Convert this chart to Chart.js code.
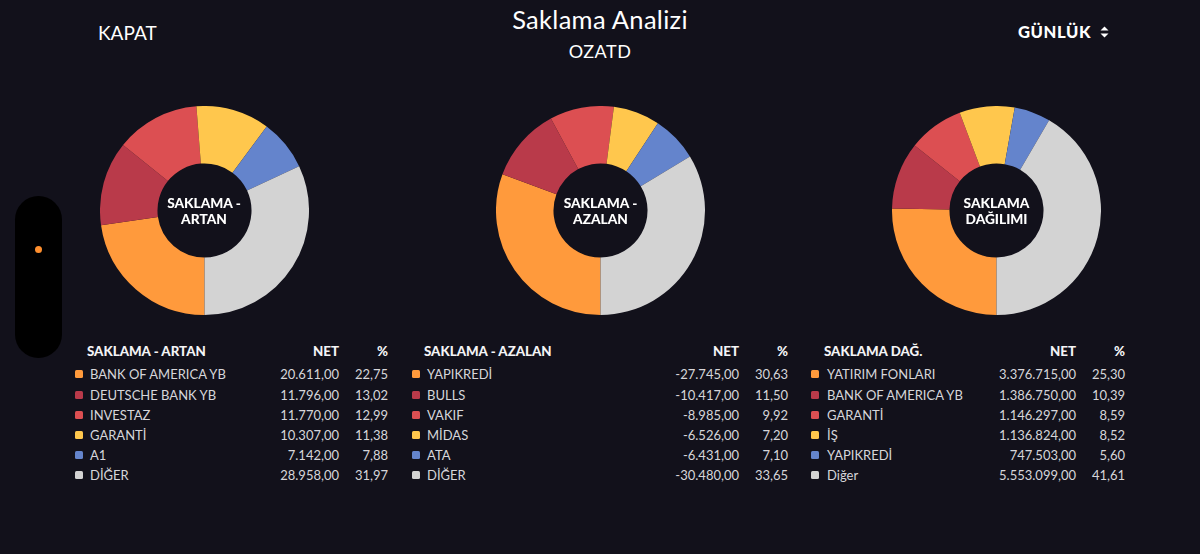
<!DOCTYPE html>
<html lang="tr">
<head>
<meta charset="utf-8">
<title>Saklama Analizi</title>
<script src="https://cdn.jsdelivr.net/npm/chart.js@4"></script>
<style>
  html, body { margin: 0; padding: 0; background: #12111b; }
  body { width: 1200px; height: 554px; position: relative; overflow: hidden; color: #f2f2f4; font-family: Lato, sans-serif; }
  .abs { position: absolute; white-space: nowrap; }
  .title { left: 0; width: 1200px; top: 3px; text-align: center; font-size: 25.5px; line-height: 32px; letter-spacing: 0.3px; color: #fff; }
  .code { left: 0; width: 1200px; top: 40px; text-align: center; font-size: 18px; line-height: 22px; letter-spacing: 0.5px; color: #fff; }
  .close { left: 98px; top: 22px; font-size: 19px; line-height: 22px; color: #fff; }
  .period { left: 1018px; top: 22px; font-size: 16.6px; line-height: 20px; font-weight: 900; letter-spacing: 0.6px; color: #fff; }
  .arrows { left: 1100px; top: 26px; width: 9px; height: 12px; }
  .pill { left: 15px; top: 196px; width: 47px; height: 162px; border-radius: 24px; background: #000; }
  .dot { left: 35px; top: 246px; width: 7px; height: 7px; border-radius: 50%; background: #ff8f2e; }
  .donut { top: 106px; width: 209px; height: 209px; }
  .center { top: 195px; width: 120px; text-align: center; font-size: 13.7px; line-height: 16px; font-weight: 900; color: #fff; white-space: normal; }
  .head { font-size: 13.3px; line-height: 16px; font-weight: 900; color: #f4f4f6; }
  .cell { font-size: 13px; line-height: 16px; color: #d6d6da; }
  .num { text-align: right; }
  .swatch { width: 8px; height: 8px; border-radius: 1.5px; }
</style>
</head>
<body>
<div class="abs title">Saklama Analizi</div>
<div class="abs code">OZATD</div>
<div class="abs close">KAPAT</div>
<div class="abs period">GÜNLÜK</div>
<svg class="abs arrows" viewBox="0 0 9 12"><path d="M4.5 0.5 L8.5 4.5 L0.5 4.5 Z M4.5 11.5 L8.5 7.5 L0.5 7.5 Z" fill="#fff"/></svg>
<div class="abs pill"></div>
<div class="abs dot"></div>

<script>
const sliceColors = ["#ff9a3c", "#b93a4a", "#dc4f52", "#ffc74d", "#6484cc", "#d3d3d3"];

const artanTitle = "SAKLAMA - ARTAN";
const artanCenter = ["SAKLAMA -", "ARTAN"];
const artanNames = ["BANK OF AMERICA YB", "DEUTSCHE BANK YB", "INVESTAZ", "GARANTİ", "A1", "DİĞER"];
const artanNet = [20611, 11796, 11770, 10307, 7142, 28958];
const artanPct = [22.75, 13.02, 12.99, 11.38, 7.88, 31.97];

const azalanTitle = "SAKLAMA - AZALAN";
const azalanCenter = ["SAKLAMA -", "AZALAN"];
const azalanNames = ["YAPIKREDİ", "BULLS", "VAKIF", "MİDAS", "ATA", "DİĞER"];
const azalanNet = [-27745, -10417, -8985, -6526, -6431, -30480];
const azalanPct = [30.63, 11.50, 9.92, 7.20, 7.10, 33.65];

const dagilimTitle = "SAKLAMA DAĞ.";
const dagilimCenter = ["SAKLAMA", "DAĞILIMI"];
const dagilimNames = ["YATIRIM FONLARI", "BANK OF AMERICA YB", "GARANTİ", "İŞ", "YAPIKREDİ", "Diğer"];
const dagilimNet = [3376715, 1386750, 1146297, 1136824, 747503, 5553099];
const dagilimPct = [25.30, 10.39, 8.59, 8.52, 5.60, 41.61];

const rowTops = [366, 386.5, 406.5, 426.5, 447, 467];

function fmt(v) {
  return v.toLocaleString("tr-TR", { minimumFractionDigits: 2, maximumFractionDigits: 2 });
}

function addText(cls, text, left, top, width) {
  const el = document.createElement("div");
  el.className = "abs " + cls;
  el.textContent = text;
  el.style.left = left + "px";
  el.style.top = top + "px";
  if (width) el.style.width = width + "px";
  document.body.appendChild(el);
  return el;
}

function addDonut(centerX, labels, values, centerLines) {
  const wrap = document.createElement("div");
  wrap.className = "abs donut";
  wrap.style.left = (centerX - 104.5) + "px";
  const canvas = document.createElement("canvas");
  wrap.appendChild(canvas);
  document.body.appendChild(wrap);

  new Chart(canvas.getContext("2d"), {
    type: "doughnut",
    data: {
      labels: labels,
      datasets: [{ data: values, backgroundColor: sliceColors, borderWidth: 0 }],
    },
    options: {
      responsive: true,
      maintainAspectRatio: false,
      animation: false,
      cutout: "45%",
      rotation: 180,
      plugins: { legend: { display: false }, tooltip: { enabled: false } },
    },
  });

  const center = addText("center", "", centerX - 60, 195);
  center.innerHTML = centerLines.join("<br>");
}

function addTable(x, title, names, net, pct) {
  // x = swatch left, netRight / pctRight = right edges of the number columns
  addText("head", title, x.head, 343);
  addText("head num", "NET", x.netRight - 80, 343, 80);
  addText("head num", "%", x.pctRight - 40, 343, 40);
  names.forEach((name, i) => {
    const swatch = addText("swatch", "", x.swatch, rowTops[i] + 4);
    swatch.style.background = sliceColors[i];
    addText("cell", name, x.name, rowTops[i]);
    addText("cell num", fmt(net[i]), x.netRight - 120, rowTops[i], 120);
    addText("cell num", fmt(pct[i]), x.pctRight - 40, rowTops[i], 40);
  });
}

addDonut(204, artanNames, artanPct, artanCenter);
addDonut(600.5, azalanNames, azalanPct, azalanCenter);
addDonut(996.5, dagilimNames, dagilimPct, dagilimCenter);

addTable({ head: 87, swatch: 75, name: 90, netRight: 339, pctRight: 388 }, artanTitle, artanNames, artanNet, artanPct);
addTable({ head: 424, swatch: 412, name: 427, netRight: 739, pctRight: 788 }, azalanTitle, azalanNames, azalanNet, azalanPct);
addTable({ head: 824, swatch: 811, name: 827, netRight: 1076, pctRight: 1125 }, dagilimTitle, dagilimNames, dagilimNet, dagilimPct);
</script>
</body>
</html>
